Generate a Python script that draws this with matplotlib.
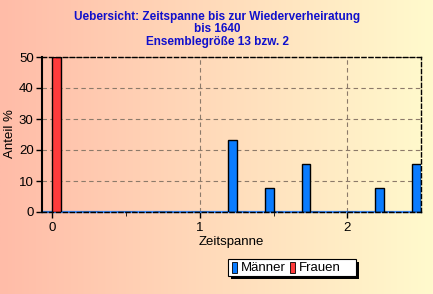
import numpy as np
import matplotlib
matplotlib.use("Agg")
import matplotlib.pyplot as plt
from matplotlib.patches import Rectangle

# Data
bins = [0.0, 0.25, 0.5, 0.75, 1.0, 1.25, 1.5, 1.75, 2.0, 2.25, 2.5]
maenner = [0, 0, 0, 0, 0, 23.08, 7.69, 15.38, 0, 7.69, 15.38]
frauen = [50, 0, 0, 0, 0, 0, 0, 0, 0, 0, 0]
yticks = [0, 10, 20, 30, 40, 50]
xticks = [0, 1, 2]
title = "Uebersicht: Zeitspanne bis zur Wiederverheiratung\nbis 1640\nEnsemblegröße 13 bzw. 2"

plt.rcParams['font.family'] = ['Liberation Sans', 'DejaVu Sans']

W, H = 433, 294
fig = plt.figure(figsize=(W / 100, H / 100), dpi=100)

# background gradient
bg = fig.add_axes([0, 0, 1, 1], zorder=-10)
c1 = np.array([255, 188, 168]) / 255
c2 = np.array([255, 250, 205]) / 255
t = np.linspace(0, 1, 256)[None, :, None]
grad = c1 * (1 - t) + c2 * t
bg.imshow(grad, aspect='auto', extent=[0, 1, 0, 1])
bg.axis('off')

ax = fig.add_axes([42 / W, 1 - 212 / H, (421 - 42) / W, (212 - 57) / H])
ax.patch.set_alpha(0)

w = 0.06
x = np.array(bins)
ax.axhline(0, color='#3a8cff', linewidth=1.6, zorder=2, clip_on=False)
ax.bar(x - w / 2, maenner, width=w, color='#0a7cff', edgecolor='black', linewidth=1, zorder=3)
ax.bar(x + w / 2, frauen, width=w, color='#ff3b3b', edgecolor='black', linewidth=1, zorder=3)

ax.set_xlim(-0.07, 2.5)
ax.set_ylim(0, 50)
ax.set_yticks(yticks)
ax.set_xticks(xticks)
ax.set_xticks([0.5, 1.5], minor=True)
ax.grid(True, linestyle=(0, (4, 3)), color='#8c7a6a', linewidth=0.8, zorder=1)

for s in ['top', 'right', 'bottom']:
    ax.spines[s].set_linestyle((0, (3, 2)))
    ax.spines[s].set_linewidth(1)
    ax.spines[s].set_zorder(4)
ax.spines['left'].set_linewidth(1.5)
ax.tick_params(axis='both', labelsize=9.5, length=4, width=1, colors='black')
ax.tick_params(axis='y', pad=2)
ax.tick_params(axis='x', which='minor', length=3)

fig.text(10.5 / W, 1 - 134 / H, "Anteil %", rotation=90, ha='center', va='center', fontsize=9.5)
ax.set_xlabel("Zeitspanne", fontsize=9.5, labelpad=1)

fig.text(217 / W, 1 - 11 / H, title, ha='center', va='top', color='#1010cc',
         fontsize=8.5, fontweight='bold', linespacing=1.05)

# legend with shadow
lx, ly, lw, lh = 228, 259, 128, 17
fig.patches.append(Rectangle(((lx + 3) / W, 1 - (ly + lh + 3) / H), lw / W, lh / H,
                             transform=fig.transFigure, facecolor='black', zorder=5))
fig.patches.append(Rectangle((lx / W, 1 - (ly + lh) / H), lw / W, lh / H,
                             transform=fig.transFigure, facecolor='white', edgecolor='black',
                             linewidth=0.8, zorder=6))
for (px, col, lab) in [(232, '#0a7cff', 'Männer'), (290, '#ff3b3b', 'Frauen')]:
    fig.patches.append(Rectangle((px / W, 1 - 273 / H), 5 / W, 11 / H,
                                 transform=fig.transFigure, facecolor=col, edgecolor='black',
                                 linewidth=0.6, zorder=7))
    fig.text((px + 9) / W, 1 - 268 / H, lab, ha='left', va='center', fontsize=9.5, zorder=8)

fig.savefig("out.png", dpi=100)
